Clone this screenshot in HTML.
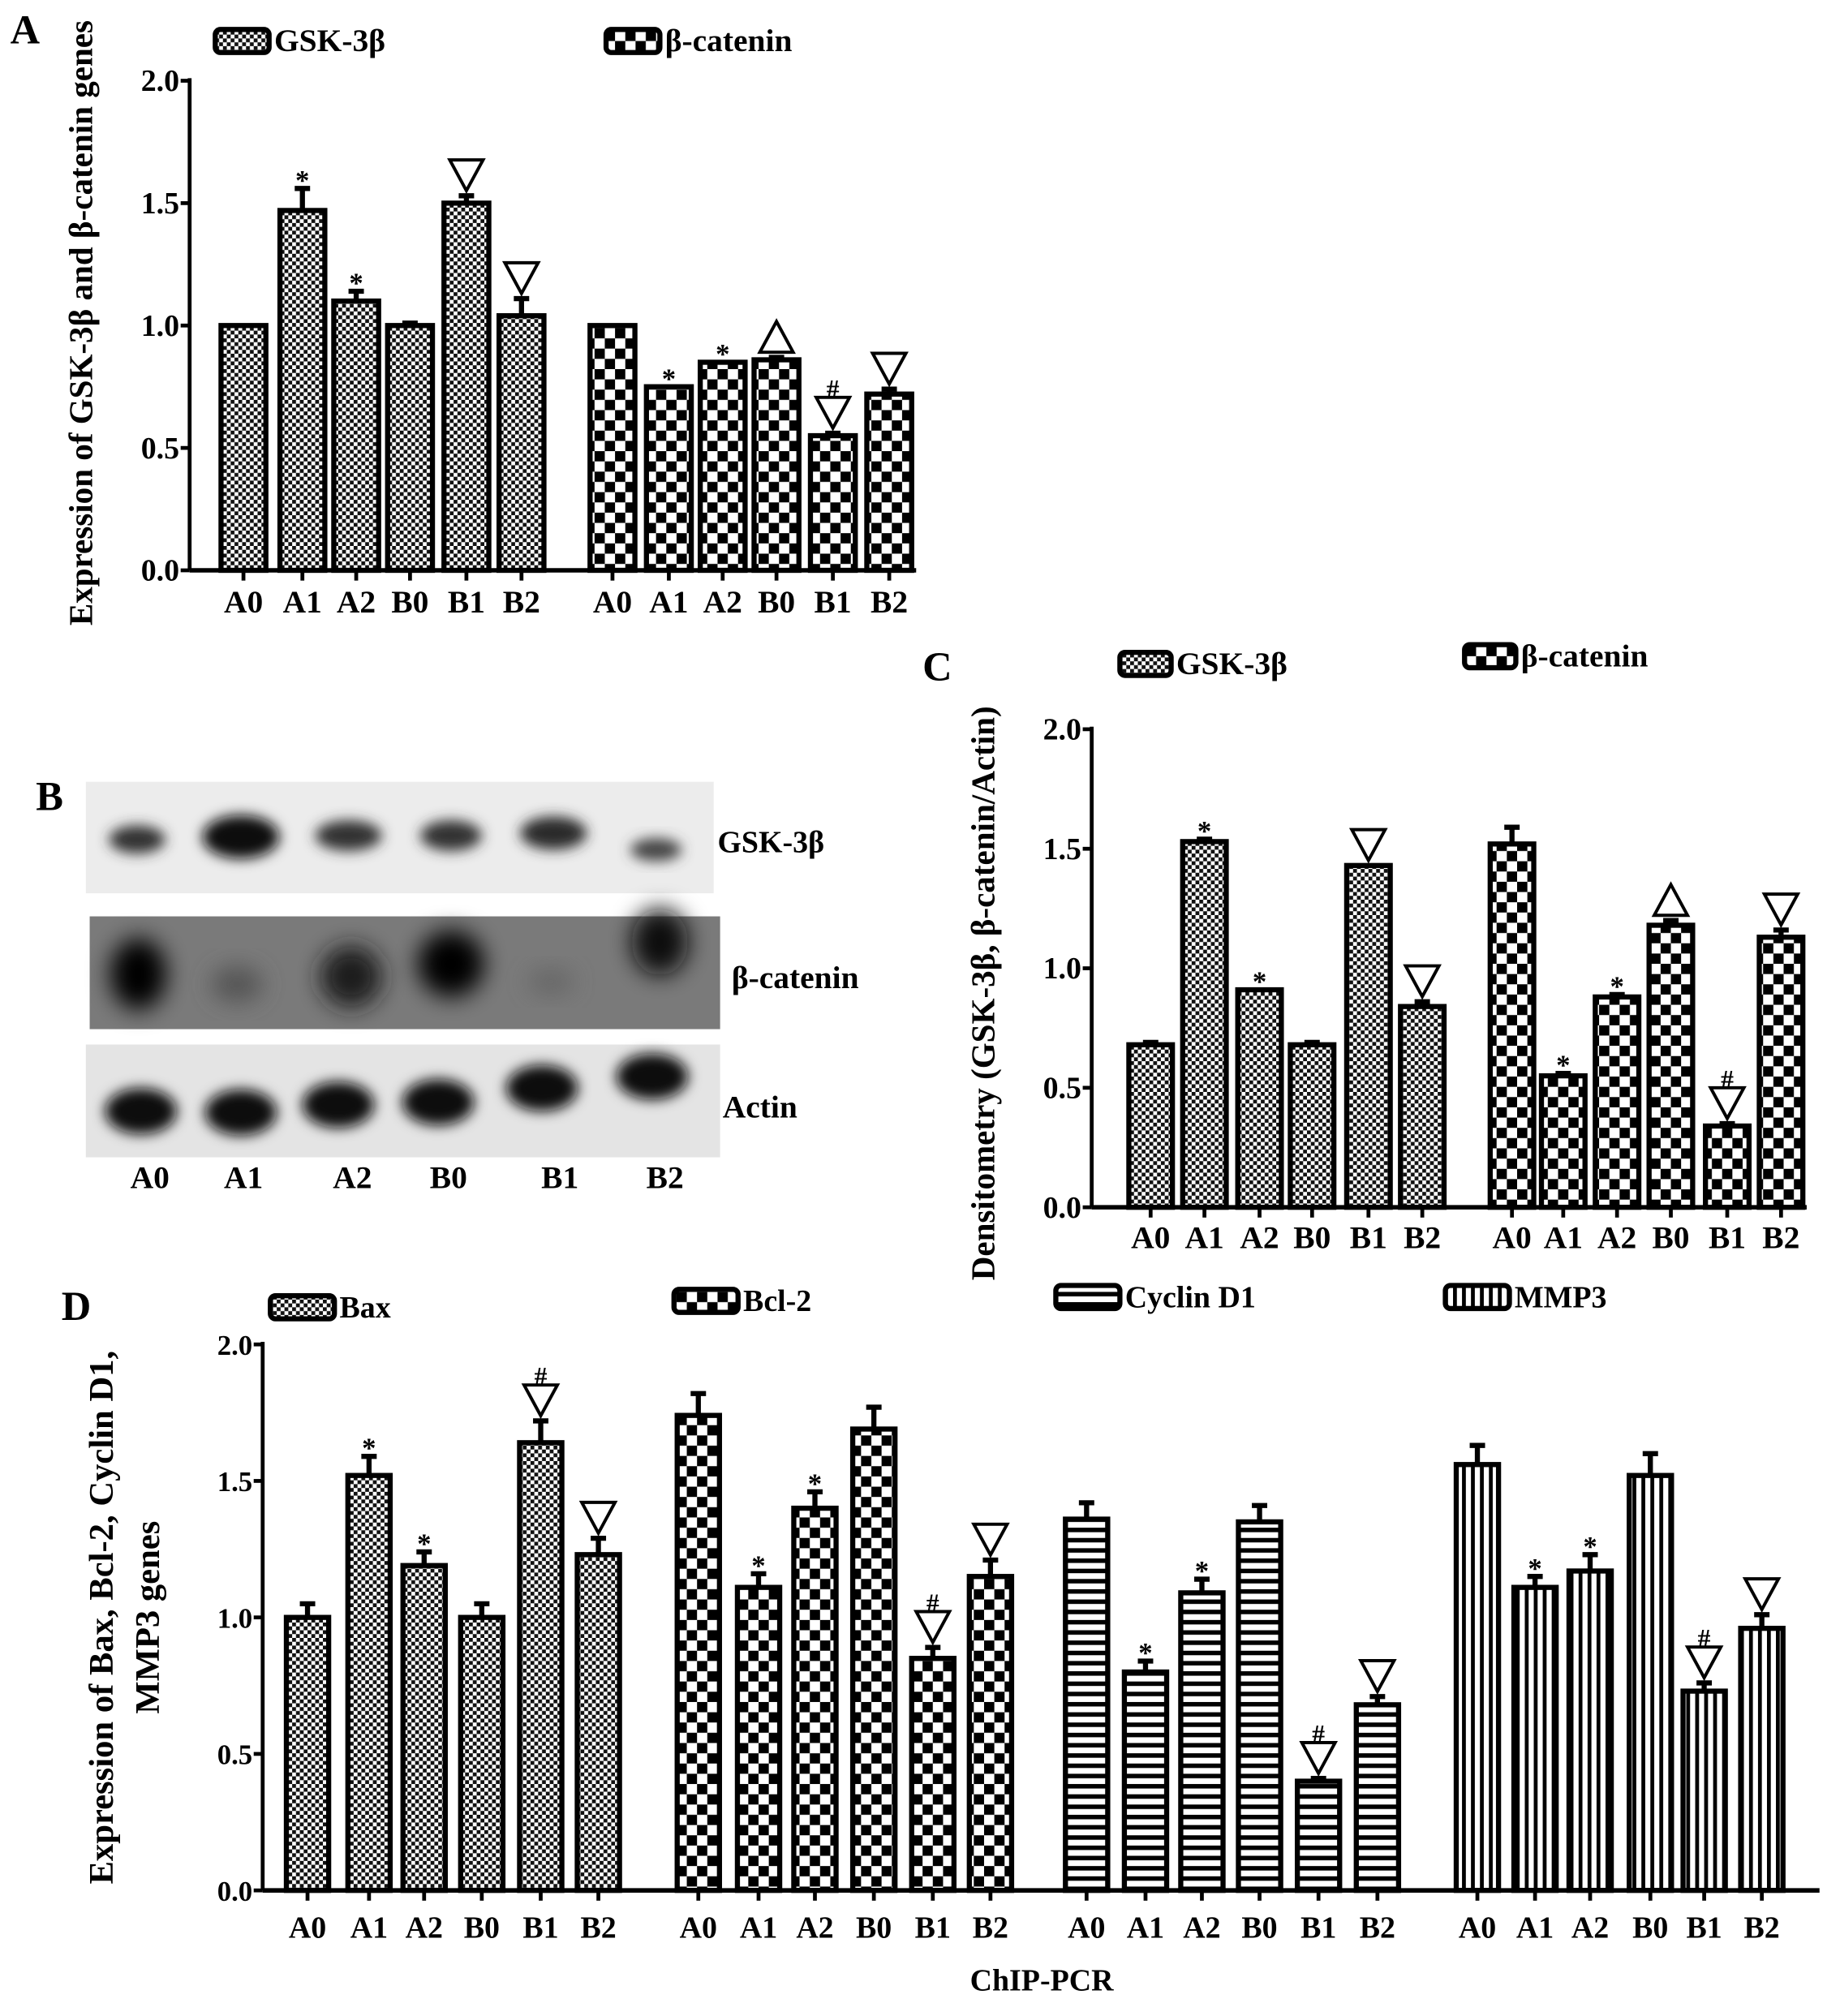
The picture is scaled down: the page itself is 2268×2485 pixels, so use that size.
<!DOCTYPE html>
<html><head><meta charset="utf-8">
<style>
html,body{margin:0;padding:0;background:#fff;}
svg{display:block;}
text{font-family:"Liberation Serif",serif;font-weight:bold;fill:#000;}
</style></head>
<body>
<svg id="fig" width="2268" height="2485" viewBox="0 0 1436 1573" preserveAspectRatio="none" xmlns="http://www.w3.org/2000/svg">
<defs>
<pattern id="pFine" width="6" height="6" patternUnits="userSpaceOnUse"><rect width="6" height="6" fill="#fff"/><rect width="3" height="3" fill="#111"/><rect x="3" y="3" width="3" height="3" fill="#111"/></pattern>
<pattern id="pBig" width="16" height="16" patternUnits="userSpaceOnUse"><rect width="16" height="16" fill="#fff"/><rect width="8" height="8" fill="#000"/><rect x="8" y="8" width="8" height="8" fill="#000"/></pattern>
<pattern id="pH" width="8" height="8" patternUnits="userSpaceOnUse"><rect width="8" height="8" fill="#fff"/><rect width="8" height="3.5" fill="#000"/></pattern>
<pattern id="pV" width="7" height="8" patternUnits="userSpaceOnUse"><rect width="7" height="8" fill="#fff"/><rect width="3" height="8" fill="#000"/></pattern>
<filter id="blur" x="-50%" y="-50%" width="200%" height="200%"><feGaussianBlur stdDeviation="5"/></filter>
<filter id="blur2" x="-50%" y="-50%" width="200%" height="200%"><feGaussianBlur stdDeviation="9"/></filter>
</defs>
<g id="root"></g>
</svg>
<script>
// Panel A data
const aCats = ["A0","A1","A2","B0","B1","B2"];
const aGsk = [1.0,1.47,1.10,1.0,1.50,1.04];
const aGskErr = [0.0,0.09,0.04,0.01,0.03,0.07];
const aGskMarks = ["","*","*","","v","v"];
const aBcat = [1.0,0.75,0.85,0.86,0.55,0.72];
const aBcatErr = [0.0,0.0,0.0,0.01,0.01,0.02];
const aBcatMarks = ["","*","*","^","#v","v"];
// Panel C data
const cGsk = [0.68,1.53,0.91,0.68,1.43,0.84];
const cGskErr = [0.01,0.01,0.0,0.01,0.0,0.02];
const cGskMarks = ["","*","*","","v","v"];
const cBcat = [1.52,0.55,0.88,1.18,0.34,1.13];
const cBcatErr = [0.07,0.01,0.01,0.02,0.01,0.03];
const cBcatMarks = ["","*","*","^","#v","v"];
// Panel D data
const dBax = [1.0,1.52,1.19,1.0,1.64,1.23];
const dBaxErr = [0.05,0.07,0.05,0.05,0.08,0.06];
const dBaxMarks = ["","*","*","","#v","v"];
const dBcl = [1.74,1.11,1.40,1.69,0.85,1.15];
const dBclErr = [0.08,0.05,0.06,0.08,0.04,0.06];
const dBclMarks = ["","*","*","","#v","v"];
const dCyc = [1.36,0.80,1.09,1.35,0.40,0.68];
const dCycErr = [0.06,0.04,0.05,0.06,0.01,0.03];
const dCycMarks = ["","*","*","","#v","v"];
const dMmp = [1.56,1.11,1.17,1.52,0.73,0.96];
const dMmpErr = [0.07,0.04,0.06,0.08,0.03,0.05];
const dMmpMarks = ["","*","*","","#v","v"];
const yTicks = ["0.0","0.5","1.0","1.5","2.0"];

const NS="http://www.w3.org/2000/svg";
const root=document.getElementById('root');
function el(tag,attrs,parent,txt){const e=document.createElementNS(NS,tag);for(const k in attrs)e.setAttribute(k,attrs[k]);if(txt!==undefined)e.textContent=txt;(parent||root).appendChild(e);return e;}

function drawPanel(name,ax,groups,barW,tickFont,labY,labFont){
  const g=el('g',{});
  
  
  const yS=v=>ax.y0-(v/2)*(ax.y0-ax.y2);
  const yl=el('line',{x1:ax.x,y1:ax.y2-2,x2:ax.x,y2:ax.y0,stroke:'#000','stroke-width':3},g);
  
  
  yTicks.forEach(t=>{const v=parseFloat(t);const y=yS(v);
    el('line',{x1:ax.x-7,y1:y,x2:ax.x,y2:y,stroke:'#000','stroke-width':3},g);
    const tl=el('text',{x:ax.x-8,y:y+8,'text-anchor':'end','font-size':tickFont},g,t);
    
    
  });
  groups.forEach(gr=>{
    gr.vals.forEach((v,i)=>{
      const cx=gr.xs[i];const top=yS(v);
      const b=el('rect',{x:cx-barW/2,y:top,width:barW,height:ax.y0-top,fill:'url(#'+gr.pat+')',stroke:'#000','stroke-width':4},g);
      
      
      const e=gr.err[i];
      let markTop=top;
      if(e>0.005){const ye=yS(v+e);
        el('line',{x1:cx,y1:top,x2:cx,y2:ye,stroke:'#000','stroke-width':4},g);
        el('line',{x1:cx-6,y1:ye,x2:cx+6,y2:ye,stroke:'#000','stroke-width':4},g);
        markTop=ye;}
      el('line',{x1:cx,y1:ax.y0,x2:cx,y2:ax.y0+8,stroke:'#000','stroke-width':3},g);
      const lb=el('text',{x:cx,y:labY,'text-anchor':'middle','font-size':labFont},g,aCats[i]);
      
      
      const m=gr.marks[i];let y=markTop-4;
      if(m.includes('v')){el('polygon',{points:`${cx-13},${y-24} ${cx+13},${y-24} ${cx},${y}`,fill:'#fff',stroke:'#000','stroke-width':2.5},g);y-=26;}
      if(m.includes('^')){el('polygon',{points:`${cx-13},${y} ${cx+13},${y} ${cx},${y-24}`,fill:'#fff',stroke:'#000','stroke-width':2.5},g);y-=26;}
      if(m.includes('*')){el('text',{x:cx,y:y+5,'text-anchor':'middle','font-size':22,'font-weight':'normal',fill:'#333'},g,'*');}
      if(m.includes('#')){el('text',{x:cx,y:y+2,'text-anchor':'middle','font-size':20,'font-weight':'normal',fill:'#333'},g,'#');}
    });
  });
  const xl=el('line',{x1:ax.x,y1:ax.y0,x2:ax.xEnd,y2:ax.y0,stroke:'#000','stroke-width':3.5},g);
  
  
  return g;
}
function legend(name,x,y,w,pat,label,fs){
  const g=el('g',{});
  
  
  el('rect',{x:x,y:y-9,width:w,height:18,rx:4,fill:'url(#'+pat+')',stroke:'#000','stroke-width':4},g);
  el('text',{x:x+w+4,y:y+8,'font-size':fs},g,label);
}
function label(name,x,y,fs,txt,extra){const t=el('text',Object.assign({x:x,y:y,'font-size':fs},extra||{}),root,txt);return t;}

// Panel A
drawPanel('panel-a-chart',{x:148,y0:445,y2:63,xEnd:715},[
 {key:'gsk',pat:'pFine',vals:aGsk,err:aGskErr,marks:aGskMarks,xs:[190,236,278,320,364,407]},
 {key:'bcat',pat:'pBig',vals:aBcat,err:aBcatErr,marks:aBcatMarks,xs:[478,522,564,606,650,694]}
],35,24,478,25);
label('panel-a-letter',8,34,32,'A');
legend('legend-gsk-a',168,32,42,'pFine','GSK-3β',25);
legend('legend-bcat-a',473,32,42,'pBig','β-catenin',25);
label('panel-a-y-title',0,0,26,'Expression of GSK-3β and β-catenin genes',{'text-anchor':'middle',transform:'translate(72,252) rotate(-90)'});

// Panel B blots
(function(){
 const g=el('g',{});
 el('rect',{x:67,y:610,width:490,height:87,fill:'#ececec'},g);
 el('rect',{x:70,y:715,width:492,height:88,fill:'#7a7a7a'},g);
 el('rect',{x:67,y:815,width:495,height:88,fill:'#e4e4e4'},g);
 const gx=[107,188,272,352,432,512],gy=[655,653,652,652,650,663],grx=[22,30,26,24,26,20],gry=[11,17,12,12,13,9],gc=['#333','#111','#333','#333','#2a2a2a','#444'];
 gx.forEach((x,i)=>el('ellipse',{cx:x,cy:gy[i],rx:grx[i],ry:gry[i],fill:gc[i],filter:'url(#blur)'},g));
 const bx=[108,185,274,352,430,515],by=[760,768,762,752,766,735],brx=[22,20,24,26,18,22],bry=[28,14,24,26,10,26],bc=['#000','#555','#1a1a1a','#050505','#666','#111'];
 bx.forEach((x,i)=>el('ellipse',{cx:x,cy:by[i],rx:brx[i],ry:bry[i],fill:bc[i],filter:'url(#blur2)'},g));
 const ax=[110,188,264,342,423,509],ay=[867,868,862,860,849,840];
 ax.forEach((x,i)=>el('ellipse',{cx:x,cy:ay[i],rx:28,ry:18,fill:'#0d0d0d',filter:'url(#blur)'},g));
 const bl=["A0","A1","A2","B0","B1","B2"],blx=[117,190,275,350,437,519];
 bl.forEach((t,i)=>el('text',{x:blx[i],y:927,'text-anchor':'middle','font-size':25},g,t));
 el('text',{x:560,y:665,'font-size':24},g,'GSK-3β');
 el('text',{x:571,y:771,'font-size':25},g,'β-catenin');
 el('text',{x:564,y:872,'font-size':25},g,'Actin');
})();
label('panel-b-letter',28,632,32,'B');

// Panel C
drawPanel('panel-c-chart',{x:852,y0:942,y2:569,xEnd:1410},[
 {key:'gsk',pat:'pFine',vals:cGsk,err:cGskErr,marks:cGskMarks,xs:[898,940,983,1024,1068,1110]},
 {key:'bcat',pat:'pBig',vals:cBcat,err:cBcatErr,marks:cBcatMarks,xs:[1180,1220,1262,1304,1348,1390]}
],34,24,974,25);
label('panel-c-letter',720,531,32,'C');
legend('legend-gsk-c',874,518,40,'pFine','GSK-3β',25);
legend('legend-bcat-c',1143,512,40,'pBig','β-catenin',25);
label('panel-c-y-title',0,0,26,'Densitometry (GSK-3β, β-catenin/Actin)',{'text-anchor':'middle',transform:'translate(776,775) rotate(-90)'});

// Panel D
drawPanel('panel-d-chart',{x:205,y0:1475,y2:1049,xEnd:1420},[
 {key:'bax',pat:'pFine',vals:dBax,err:dBaxErr,marks:dBaxMarks,xs:[240,288,331,376,422,467]},
 {key:'bcl2',pat:'pBig',vals:dBcl,err:dBclErr,marks:dBclMarks,xs:[545,592,636,682,728,773]},
 {key:'cyclin',pat:'pH',vals:dCyc,err:dCycErr,marks:dCycMarks,xs:[848,894,938,983,1029,1075]},
 {key:'mmp3',pat:'pV',vals:dMmp,err:dMmpErr,marks:dMmpMarks,xs:[1153,1198,1241,1288,1330,1375]}
],33,22,1512,24);
label('panel-d-letter',48,1030,32,'D');
legend('legend-bax',211,1020,50,'pFine','Bax',24);
legend('legend-bcl2',526,1015,50,'pBig','Bcl-2',24);
legend('legend-cyclin',824,1012,50,'pH','Cyclin D1',24);
legend('legend-mmp3',1128,1012,50,'pV','MMP3',24);
label('panel-d-y-title-1',0,0,27,'Expression of Bax, Bcl-2, Cyclin D1,',{'text-anchor':'middle',transform:'translate(88,1262) rotate(-90)'});
label('panel-d-y-title-2',0,0,27,'MMP3 genes',{'text-anchor':'middle',transform:'translate(124,1262) rotate(-90)'});
label('x-axis-title-chip-pcr',813,1553,24,'ChIP-PCR',{'text-anchor':'middle'});
</script>
</body></html>
